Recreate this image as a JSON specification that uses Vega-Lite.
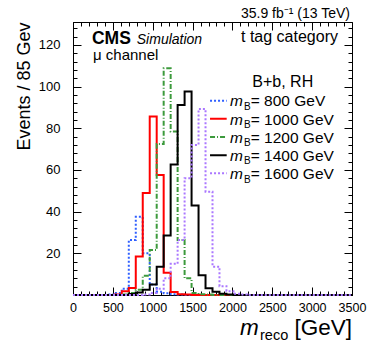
{
  "$schema": "https://vega.github.io/schema/vega-lite/v6.json",
  "width": 279,
  "height": 273,
  "autosize": {"type": "none"},
  "padding": {"left": 73, "top": 22, "right": 22, "bottom": 56},
  "background": "white",
  "config": {
    "view": {"stroke": "black", "strokeWidth": 1},
    "font": "Liberation Sans",
    "axis": {"domainColor": "black", "tickColor": "black", "labelColor": "black", "titleColor": "black", "grid": false, "labelFont": "Liberation Sans", "titleFont": "Liberation Sans", "tickWidth": 1, "domainWidth": 1, "labelOverlap": false, "labelFlush": false}
  },
  "datasets": {
    "hist": [
      {"s": "800", "m": 0, "n": 0}, {"s": "800", "m": 437.5, "n": 0.3}, {"s": "800", "m": 525, "n": 1.0}, {"s": "800", "m": 612.5, "n": 3.0}, {"s": "800", "m": 700, "n": 26.4}, {"s": "800", "m": 787.5, "n": 37.5}, {"s": "800", "m": 875, "n": 20.0}, {"s": "800", "m": 962.5, "n": 5.0}, {"s": "800", "m": 1050, "n": 1.6}, {"s": "800", "m": 1137.5, "n": 0.8}, {"s": "800", "m": 1225, "n": 0.4}, {"s": "800", "m": 1312.5, "n": 0.2}, {"s": "800", "m": 1400, "n": 0}, {"s": "800", "m": 3500, "n": 0},
      {"s": "1000", "m": 0, "n": 0}, {"s": "1000", "m": 525, "n": 0.3}, {"s": "1000", "m": 612.5, "n": 1.8}, {"s": "1000", "m": 700, "n": 3.4}, {"s": "1000", "m": 787.5, "n": 18.5}, {"s": "1000", "m": 875, "n": 49.0}, {"s": "1000", "m": 962.5, "n": 85.6}, {"s": "1000", "m": 1050, "n": 57.6}, {"s": "1000", "m": 1137.5, "n": 10.7}, {"s": "1000", "m": 1225, "n": 1.4}, {"s": "1000", "m": 1312.5, "n": 0.4}, {"s": "1000", "m": 1400, "n": 0.2}, {"s": "1000", "m": 1487.5, "n": 0}, {"s": "1000", "m": 3500, "n": 0},
      {"s": "1200", "m": 0, "n": 0}, {"s": "1200", "m": 612.5, "n": 0.3}, {"s": "1200", "m": 700, "n": 1.0}, {"s": "1200", "m": 787.5, "n": 2.5}, {"s": "1200", "m": 875, "n": 9.2}, {"s": "1200", "m": 962.5, "n": 21.6}, {"s": "1200", "m": 1050, "n": 72.5}, {"s": "1200", "m": 1137.5, "n": 108.8}, {"s": "1200", "m": 1225, "n": 78.4}, {"s": "1200", "m": 1312.5, "n": 26.4}, {"s": "1200", "m": 1400, "n": 8.0}, {"s": "1200", "m": 1487.5, "n": 1.0}, {"s": "1200", "m": 1575, "n": 0.4}, {"s": "1200", "m": 1662.5, "n": 0.2}, {"s": "1200", "m": 1750, "n": 0}, {"s": "1200", "m": 3500, "n": 0},
      {"s": "1400", "m": 0, "n": 0}, {"s": "1400", "m": 700, "n": 0.5}, {"s": "1400", "m": 787.5, "n": 1.2}, {"s": "1400", "m": 875, "n": 2.5}, {"s": "1400", "m": 962.5, "n": 5.0}, {"s": "1400", "m": 1050, "n": 13.5}, {"s": "1400", "m": 1137.5, "n": 28.5}, {"s": "1400", "m": 1225, "n": 62.6}, {"s": "1400", "m": 1312.5, "n": 91.2}, {"s": "1400", "m": 1400, "n": 97.6}, {"s": "1400", "m": 1487.5, "n": 43.0}, {"s": "1400", "m": 1575, "n": 9.5}, {"s": "1400", "m": 1662.5, "n": 3.2}, {"s": "1400", "m": 1750, "n": 1.5}, {"s": "1400", "m": 1837.5, "n": 0.6}, {"s": "1400", "m": 1925, "n": 0.3}, {"s": "1400", "m": 2012.5, "n": 0}, {"s": "1400", "m": 3500, "n": 0},
      {"s": "1600", "m": 0, "n": 0}, {"s": "1600", "m": 875, "n": 0.3}, {"s": "1600", "m": 962.5, "n": 1.0}, {"s": "1600", "m": 1050, "n": 3.0}, {"s": "1600", "m": 1137.5, "n": 8.0}, {"s": "1600", "m": 1225, "n": 15.0}, {"s": "1600", "m": 1312.5, "n": 26.4}, {"s": "1600", "m": 1400, "n": 56.0}, {"s": "1600", "m": 1487.5, "n": 72.0}, {"s": "1600", "m": 1575, "n": 89.3}, {"s": "1600", "m": 1662.5, "n": 49.6}, {"s": "1600", "m": 1750, "n": 13.6}, {"s": "1600", "m": 1837.5, "n": 4.2}, {"s": "1600", "m": 1925, "n": 1.8}, {"s": "1600", "m": 2012.5, "n": 0.6}, {"s": "1600", "m": 2100, "n": 0.3}, {"s": "1600", "m": 2187.5, "n": 0}, {"s": "1600", "m": 3500, "n": 0}
    ]
  },
  "data": {"name": "hist"},
  "resolve": {"axis": {"x": "independent", "y": "independent"}},
  "layer": [
    {
      "mark": {"type": "line", "interpolate": "step-after", "strokeWidth": 2, "strokeJoin": "miter", "strokeCap": "butt"},
      "encoding": {
        "x": {"field": "m", "type": "quantitative", "scale": {"domain": [0, 3500], "nice": false, "zero": false},
              "axis": {"orient": "bottom", "values": [0, 500, 1000, 1500, 2000, 2500, 3000, 3500], "format": "d", "tickSize": -8, "labelPadding": 14, "labelFontSize": 12.5, "title": null, "domain": true}},
        "y": {"field": "n", "type": "quantitative", "scale": {"domain": [0, 131], "nice": false},
              "axis": {"orient": "left", "values": [0, 20, 40, 60, 80, 100, 120], "labelExpr": "datum.value == 0 ? '' : datum.label", "tickSize": -8, "labelPadding": 21, "labelFontSize": 13, "domain": true,
                       "title": "Events / 85 Gev", "titleFontSize": 18, "titleFontWeight": "normal", "titleX": -49, "titleY": 0, "titleAngle": 270, "titleAlign": "right", "titleBaseline": "middle"}},
        "color": {"field": "s", "type": "nominal", "scale": {"domain": ["800", "1000", "1200", "1400", "1600"], "range": ["#2f5fff", "#ff0000", "#3c9a3c", "#000000", "#aa77ff"]}, "legend": null},
        "strokeDash": {"field": "s", "type": "nominal", "scale": {"domain": ["800", "1000", "1200", "1400", "1600"], "range": [[2, 2], [1, 0], [5, 2, 1, 2], [1, 0], [2, 2]]}, "legend": null}
      }
    },
    {
      "mark": {"type": "point", "opacity": 0},
      "encoding": {
        "x": {"field": "m", "type": "quantitative", "axis": {"orient": "bottom", "values": [0,100,200,300,400,500,600,700,800,900,1000,1100,1200,1300,1400,1500,1600,1700,1800,1900,2000,2100,2200,2300,2400,2500,2600,2700,2800,2900,3000,3100,3200,3300,3400,3500], "tickSize": -4, "labels": false, "domain": false, "title": null}},
        "y": {"field": "n", "type": "quantitative", "axis": {"orient": "left", "values": [0,4,8,12,16,20,24,28,32,36,40,44,48,52,56,60,64,68,72,76,80,84,88,92,96,100,104,108,112,116,120,124,128], "tickSize": -4, "labels": false, "domain": false, "title": null}}
      }
    },
    {
      "mark": {"type": "point", "opacity": 0},
      "encoding": {
        "x": {"field": "m", "type": "quantitative", "axis": {"orient": "top", "values": [0, 500, 1000, 1500, 2000, 2500, 3000, 3500], "tickSize": -8, "labels": false, "domain": false, "title": null}},
        "y": {"field": "n", "type": "quantitative", "axis": {"orient": "right", "values": [0, 20, 40, 60, 80, 100, 120], "tickSize": -8, "labels": false, "domain": false, "title": null}}
      }
    },
    {
      "mark": {"type": "point", "opacity": 0},
      "encoding": {
        "x": {"field": "m", "type": "quantitative", "axis": {"orient": "top", "values": [0,100,200,300,400,500,600,700,800,900,1000,1100,1200,1300,1400,1500,1600,1700,1800,1900,2000,2100,2200,2300,2400,2500,2600,2700,2800,2900,3000,3100,3200,3300,3400,3500], "tickSize": -4, "labels": false, "domain": false, "title": null}},
        "y": {"field": "n", "type": "quantitative", "axis": {"orient": "right", "values": [0,4,8,12,16,20,24,28,32,36,40,44,48,52,56,60,64,68,72,76,80,84,88,92,96,100,104,108,112,116,120,124,128], "tickSize": -4, "labels": false, "domain": false, "title": null}}
      }
    },
    {
      "data": {"values": [{"s": "800"}]},
      "mark": {"type": "rule", "strokeWidth": 2},
      "encoding": {"x": {"datum": 1719, "type": "quantitative", "axis": null}, "x2": {"datum": 1928}, "y": {"datum": 93.24, "type": "quantitative", "axis": null}, "color": {"field": "s", "type": "nominal", "legend": null}, "strokeDash": {"field": "s", "type": "nominal", "legend": null}}
    },
    {
      "data": {"values": [{"s": "1000"}]},
      "mark": {"type": "rule", "strokeWidth": 2},
      "encoding": {"x": {"datum": 1719, "type": "quantitative", "axis": null}, "x2": {"datum": 1928}, "y": {"datum": 84.53, "type": "quantitative", "axis": null}, "color": {"field": "s", "type": "nominal", "legend": null}, "strokeDash": {"field": "s", "type": "nominal", "legend": null}}
    },
    {
      "data": {"values": [{"s": "1200"}]},
      "mark": {"type": "rule", "strokeWidth": 2},
      "encoding": {"x": {"datum": 1719, "type": "quantitative", "axis": null}, "x2": {"datum": 1928}, "y": {"datum": 75.82, "type": "quantitative", "axis": null}, "color": {"field": "s", "type": "nominal", "legend": null}, "strokeDash": {"field": "s", "type": "nominal", "legend": null}}
    },
    {
      "data": {"values": [{"s": "1400"}]},
      "mark": {"type": "rule", "strokeWidth": 2},
      "encoding": {"x": {"datum": 1719, "type": "quantitative", "axis": null}, "x2": {"datum": 1928}, "y": {"datum": 67.11, "type": "quantitative", "axis": null}, "color": {"field": "s", "type": "nominal", "legend": null}, "strokeDash": {"field": "s", "type": "nominal", "legend": null}}
    },
    {
      "data": {"values": [{"s": "1600"}]},
      "mark": {"type": "rule", "strokeWidth": 2},
      "encoding": {"x": {"datum": 1719, "type": "quantitative", "axis": null}, "x2": {"datum": 1928}, "y": {"datum": 58.40, "type": "quantitative", "axis": null}, "color": {"field": "s", "type": "nominal", "legend": null}, "strokeDash": {"field": "s", "type": "nominal", "legend": null}}
    },
    {
      "data": {"values": [{"t": "m"}]},
      "mark": {"type": "text", "align": "left", "baseline": "alphabetic", "fontSize": 15.5, "fontStyle": "italic", "lineHeight": 18.15, "color": "black"},
      "encoding": {"x": {"datum": 1970, "type": "quantitative", "axis": null}, "y": {"datum": 90.5, "type": "quantitative", "axis": null}, "text": {"value": ["m", "m", "m", "m", "m"]}}
    },
    {
      "data": {"values": [{"t": "B"}]},
      "mark": {"type": "text", "align": "left", "baseline": "alphabetic", "fontSize": 10, "lineHeight": 18.15, "color": "black"},
      "encoding": {"x": {"datum": 2145, "type": "quantitative", "axis": null}, "y": {"datum": 88.8, "type": "quantitative", "axis": null}, "text": {"value": ["B", "B", "B", "B", "B"]}}
    },
    {
      "data": {"values": [{"t": "labels"}]},
      "mark": {"type": "text", "align": "left", "baseline": "alphabetic", "fontSize": 15.5, "lineHeight": 18.15, "color": "black"},
      "encoding": {"x": {"datum": 2229, "type": "quantitative", "axis": null}, "y": {"datum": 90.5, "type": "quantitative", "axis": null}, "text": {"value": ["= 800 GeV", "= 1000 GeV", "= 1200 GeV", "= 1400 GeV", "= 1600 GeV"]}}
    },
    {
      "data": {"values": [{"t": "B+b, RH"}]},
      "mark": {"type": "text", "align": "center", "baseline": "alphabetic", "fontSize": 16, "color": "black"},
      "encoding": {"x": {"datum": 2631, "type": "quantitative", "axis": null}, "y": {"datum": 100, "type": "quantitative", "axis": null}, "text": {"field": "t"}}
    },
    {
      "data": {"values": [{"t": "35.9 fb⁻¹ (13 TeV)"}]},
      "mark": {"type": "text", "align": "right", "baseline": "alphabetic", "fontSize": 14, "color": "black"},
      "encoding": {"x": {"datum": 3475, "type": "quantitative", "axis": null}, "y": {"datum": 132.8, "type": "quantitative", "axis": null}, "text": {"field": "t"}}
    },
    {
      "data": {"values": [{"t": "CMS"}]},
      "mark": {"type": "text", "align": "left", "baseline": "alphabetic", "fontSize": 17.5, "fontWeight": "bold", "color": "black"},
      "encoding": {"x": {"datum": 238, "type": "quantitative", "axis": null}, "y": {"datum": 120.5, "type": "quantitative", "axis": null}, "text": {"field": "t"}}
    },
    {
      "data": {"values": [{"t": "Simulation"}]},
      "mark": {"type": "text", "align": "left", "baseline": "alphabetic", "fontSize": 14, "fontStyle": "italic", "color": "black"},
      "encoding": {"x": {"datum": 800, "type": "quantitative", "axis": null}, "y": {"datum": 120.5, "type": "quantitative", "axis": null}, "text": {"field": "t"}}
    },
    {
      "data": {"values": [{"t": "μ channel"}]},
      "mark": {"type": "text", "align": "left", "baseline": "alphabetic", "fontSize": 15, "color": "black"},
      "encoding": {"x": {"datum": 251, "type": "quantitative", "axis": null}, "y": {"datum": 112.6, "type": "quantitative", "axis": null}, "text": {"field": "t"}}
    },
    {
      "data": {"values": [{"t": "t tag category"}]},
      "mark": {"type": "text", "align": "right", "baseline": "alphabetic", "fontSize": 16, "color": "black"},
      "encoding": {"x": {"datum": 3324, "type": "quantitative", "axis": null}, "y": {"datum": 121.3, "type": "quantitative", "axis": null}, "text": {"field": "t"}}
    },
    {
      "data": {"values": [{"t": "m"}]},
      "mark": {"type": "text", "align": "left", "baseline": "alphabetic", "fontSize": 22.5, "fontStyle": "italic", "color": "black"},
      "encoding": {"x": {"datum": 2095, "type": "quantitative", "axis": null}, "y": {"datum": -19.2, "type": "quantitative", "axis": null}, "text": {"field": "t"}}
    },
    {
      "data": {"values": [{"t": "reco"}]},
      "mark": {"type": "text", "align": "left", "baseline": "alphabetic", "fontSize": 14.5, "color": "black"},
      "encoding": {"x": {"datum": 2346, "type": "quantitative", "axis": null}, "y": {"datum": -21.6, "type": "quantitative", "axis": null}, "text": {"field": "t"}}
    },
    {
      "data": {"values": [{"t": "[GeV]"}]},
      "mark": {"type": "text", "align": "right", "baseline": "alphabetic", "fontSize": 22.5, "color": "black"},
      "encoding": {"x": {"datum": 3500, "type": "quantitative", "axis": null}, "y": {"datum": -19.2, "type": "quantitative", "axis": null}, "text": {"field": "t"}}
    }
  ]
}
